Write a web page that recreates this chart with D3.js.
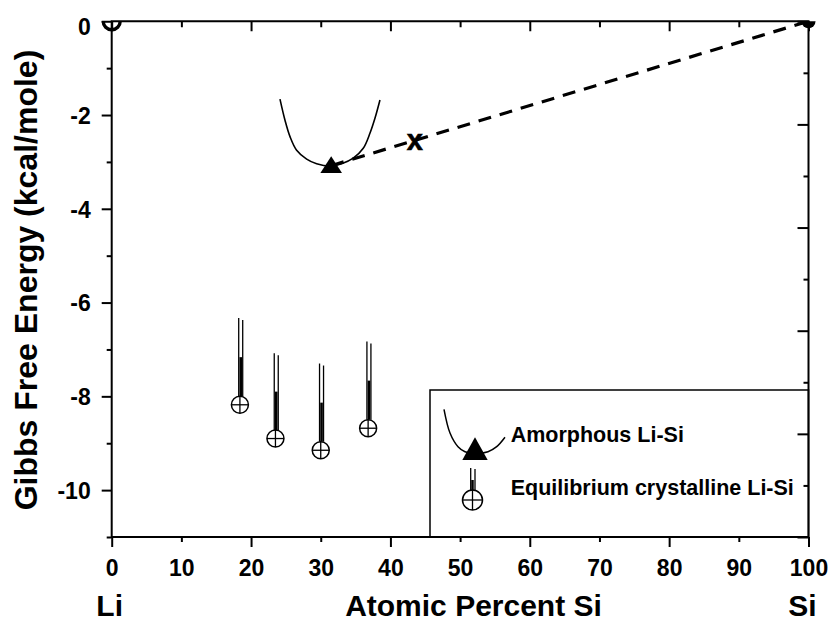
<!DOCTYPE html>
<html>
<head>
<meta charset="utf-8">
<script src="https://cdn.jsdelivr.net/npm/d3@7"></script>
<style>
  body { margin: 0; background: #fff; }
  svg { display: block; }
  text { font-family: "Liberation Sans", Arial, Helvetica, sans-serif; font-weight: bold; fill: #000; }
</style>
</head>
<body>
<svg id="chart" width="834" height="623"></svg>
<script>
// Gibbs free energy of Li–Si phases versus composition (atomic % Si)

const xTickValues = d3.range(0, 101, 10);
const yTickValues = d3.range(-11, 1, 1);
const yLabelValues = [0, -2, -4, -6, -8, -10];

// amorphous Li-Si free-energy curve
const amorphousX = [24.15, 24.87, 25.59, 26.54, 27.98, 29.41, 31.32, 33.0, 34.66, 36.1, 37.06, 37.78, 38.5];
const amorphousG = [-1.66, -2.11, -2.46, -2.75, -2.94, -3.04, -3.09, -3.04, -2.92, -2.71, -2.39, -2.07, -1.68];

// minimum of the amorphous curve
const amorphousMinX = [31.5];
const amorphousMinG = [-3.08];

// common tangent from the amorphous minimum to pure Si
const tangentX = [31.5, 100];
const tangentG = [-3.08, 0];
const crossX = [43.5];
const crossG = [-2.57];

// equilibrium crystalline phases: free energy and top of the bar
const crystalX = [18.4, 23.5, 30.0, 36.8];
const crystalG = [-8.18, -8.9, -9.15, -8.68];
const crystalTopG = [-6.33, -7.08, -7.3, -6.83];

// pure elements
const liX = [0], liG = [0];
const siX = [100], siG = [0];

const svg = d3.select("#chart");

const x = d3.scaleLinear([0, 100], [111.7, 808.5]);
const y = d3.scaleLinear([-11, 0], [537, 21.25]);
const yRight = d3.scaleLinear([0, 10], [21.25, 537]);

const [x0, x1] = x.range();
const [yb, yt] = y.range();

// marks are cut off above G = 0 only
svg.append("defs").append("clipPath").attr("id", "plot-clip")
  .append("rect").attr("x", 0).attr("y", yt).attr("width", 834).attr("height", yb - yt);

// ---- legend box (sits inside the lower-right of the frame)
const legend = svg.append("g").attr("transform", "translate(430,390)");
legend.append("rect")
  .attr("width", x1 - 430).attr("height", yb - 390)
  .attr("fill", "#fff").attr("stroke", "#000").attr("stroke-width", 1.5);

const swatchCurve = [[14, 19.3], [20, 43], [28, 56.7], [35, 61.7], [45, 63.5], [58, 61.7], [66.7, 56.7], [75, 47.3]];
legend.append("path")
  .attr("d", d3.line().curve(d3.curveCatmullRom)(swatchCurve))
  .attr("fill", "none").attr("stroke", "#000").attr("stroke-width", 1.5);
legend.append("path")
  .attr("d", "M45,47.3 L57.7,70 L32.3,70 Z").attr("fill", "#000");
legend.append("text").attr("x", 80.7).attr("y", 52.3).attr("font-size", 21.5).text("Amorphous Li-Si");

const lc = legend.append("g").attr("transform", "translate(42.5,110)");
lc.append("line").attr("x1", -1.8).attr("x2", -1.8).attr("y1", -32).attr("y2", -10).attr("stroke", "#000").attr("stroke-width", 1.3);
lc.append("line").attr("x1", 2.5).attr("x2", 2.5).attr("y1", -31).attr("y2", -10).attr("stroke", "#000").attr("stroke-width", 1.3);
lc.append("line").attr("x1", 0).attr("x2", 0).attr("y1", -20).attr("y2", -10).attr("stroke", "#000").attr("stroke-width", 2.5);
lc.append("circle").attr("r", 10).attr("fill", "none").attr("stroke", "#000").attr("stroke-width", 1.5);
lc.append("line").attr("x1", -10).attr("x2", 10).attr("stroke", "#000").attr("stroke-width", 1.3);
lc.append("line").attr("y1", -10).attr("y2", 10).attr("stroke", "#000").attr("stroke-width", 1.3);
legend.append("text").attr("x", 80.7).attr("y", 105).attr("font-size", 21.5).text("Equilibrium crystalline Li-Si");

// ---- data marks
const plot = svg.append("g").attr("clip-path", "url(#plot-clip)");

// amorphous free-energy curve
plot.append("path")
  .datum(amorphousX.map((v, i) => [v, amorphousG[i]]))
  .attr("d", d3.line().x(d => x(d[0])).y(d => y(d[1])).curve(d3.curveCatmullRom))
  .attr("fill", "none").attr("stroke", "#000").attr("stroke-width", 1.6);

// tangent line to Si
plot.append("path")
  .datum(tangentX.map((v, i) => [v, tangentG[i]]))
  .attr("d", d3.line().x(d => x(d[0])).y(d => y(d[1])))
  .attr("fill", "none").attr("stroke", "#000").attr("stroke-width", 3.2)
  .attr("stroke-dasharray", "13,9");

// triangle at the amorphous minimum
plot.selectAll(".amin").data(amorphousMinX.map((v, i) => [v, amorphousMinG[i]]))
  .join("path").attr("class", "amin")
  .attr("transform", d => `translate(${x(d[0])},${y(d[1])})`)
  .attr("d", "M0,-9.3 L10.8,7.3 L-10.8,7.3 Z").attr("fill", "#000");

// "x" on the tangent line
plot.selectAll(".xmark").data(crossX.map((v, i) => [v, crossG[i]]))
  .join("text").attr("class", "xmark")
  .attr("x", d => x(d[0])).attr("y", d => y(d[1]))
  .attr("dy", "0.27em").attr("text-anchor", "middle").attr("font-size", 29)
  .attr("stroke", "#000").attr("stroke-width", 0.6).text("x");

// crystalline phases: crossed circles with double bars above
const crystals = crystalX.map((v, i) => ({ x: v, g: crystalG[i], top: crystalTopG[i] }));
const cg = plot.selectAll(".crystal").data(crystals).join("g").attr("class", "crystal")
  .attr("transform", d => `translate(${x(d.x)},${y(d.g)})`);
const r = 8.5;
cg.append("line").attr("x1", -1.2).attr("x2", -1.2)
  .attr("y1", d => y(d.top) - y(d.g)).attr("y2", -r)
  .attr("stroke", "#000").attr("stroke-width", 1.3);
cg.append("line").attr("x1", 2.8).attr("x2", 2.8)
  .attr("y1", d => y(d.top) - y(d.g) + 2).attr("y2", -r)
  .attr("stroke", "#000").attr("stroke-width", 1.3);
cg.append("line").attr("x1", 0.8).attr("x2", 0.8)
  .attr("y1", d => 0.5 * (y(d.top) - y(d.g)) - r * 0.5).attr("y2", -r)
  .attr("stroke", "#000").attr("stroke-width", 2.6);
cg.append("circle").attr("r", r).attr("fill", "#fff").attr("stroke", "#000").attr("stroke-width", 1.5);
cg.append("line").attr("x1", -r).attr("x2", r).attr("stroke", "#000").attr("stroke-width", 1.3);
cg.append("line").attr("y1", -r).attr("y2", r).attr("stroke", "#000").attr("stroke-width", 1.3);

// pure Li and pure Si end points
plot.selectAll(".li").data(liX.map((v, i) => [v, liG[i]])).join("circle").attr("class", "li")
  .attr("cx", d => x(d[0])).attr("cy", d => y(d[1])).attr("r", 8.5)
  .attr("fill", "none").attr("stroke", "#000").attr("stroke-width", 3.4);
plot.selectAll(".si").data(siX.map((v, i) => [v, siG[i]])).join("circle").attr("class", "si")
  .attr("cx", d => x(d[0])).attr("cy", d => y(d[1])).attr("r", 7)
  .attr("fill", "#000");

// ---- axes
function styleTicks(g, len, horizontal) {
  g.select(".domain").remove();
  g.selectAll(".tick line")
    .attr("stroke", "#000").attr("stroke-width", 2)
    .each(function (d) {
      d3.select(this).attr(horizontal ? "y2" : "x2", len(d));
    });
}

const majorX = d => d % 20 === 0;
const majorY = d => d % 2 === 0;

const gBottom = svg.append("g").attr("transform", `translate(0,${yb})`)
  .call(d3.axisBottom(x).tickValues(xTickValues).tickFormat(d => String(d)));
styleTicks(gBottom, d => majorX(d) ? 10 : 5, true);
gBottom.selectAll(".tick text").attr("y", 39).attr("dy", null)
  .attr("font-size", 23).attr("font-family", null).attr("fill", "#000");

const gTop = svg.append("g").attr("transform", `translate(0,${yt})`)
  .call(d3.axisTop(x).tickValues(xTickValues).tickFormat(""));
styleTicks(gTop, d => majorX(d) ? 10 : 6, true);

const gLeft = svg.append("g").attr("transform", `translate(${x0},0)`)
  .call(d3.axisLeft(y).tickValues(yTickValues).tickFormat(d => yLabelValues.includes(d) ? String(d) : ""));
styleTicks(gLeft, d => majorY(d) ? -10 : -5, false);
gLeft.selectAll(".tick text").attr("x", -21).attr("dy", d => d === 0 ? "0.58em" : "0.36em")
  .attr("font-size", 23).attr("font-family", null).attr("fill", "#000");

const gRight = svg.append("g").attr("transform", `translate(${x1},0)`)
  .call(d3.axisRight(yRight).tickValues(d3.range(0, 11)).tickFormat(""));
styleTicks(gRight, d => majorY(d) ? -11 : -5, false);

svg.selectAll(".tick text").attr("font-weight", "bold");

// frame
svg.append("rect").attr("x", x0).attr("y", yt).attr("width", x1 - x0).attr("height", yb - yt)
  .attr("fill", "none").attr("stroke", "#000").attr("stroke-width", 2);

// ---- titles
svg.append("text").attr("x", 473.5).attr("y", 616).attr("text-anchor", "middle")
  .attr("font-size", 30).text("Atomic Percent Si");
svg.append("text").attr("x", x(0) - 2).attr("y", 616).attr("text-anchor", "middle")
  .attr("font-size", 30).text("Li");
svg.append("text").attr("x", x(100) - 6).attr("y", 616).attr("text-anchor", "middle")
  .attr("font-size", 30).text("Si");
svg.append("text").attr("transform", "translate(37,280) rotate(-90)").attr("text-anchor", "middle")
  .attr("font-size", 32).text("Gibbs Free Energy (kcal/mole)");
</script>
</body>
</html>
